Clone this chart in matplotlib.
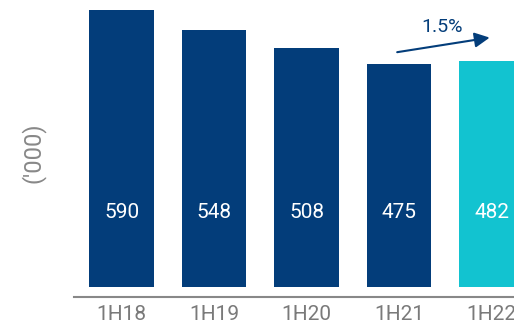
import matplotlib.pyplot as plt

plt.rcParams["font.family"] = ["Roboto", "DejaVu Sans"]

periods = ["1H18", "1H19", "1H20", "1H21", "1H22"]
volumes = [590, 548, 508, 475, 482]
growth_label = "1.5%"

navy = "#033d7a"
cyan = "#12c3d0"
colors = [navy, navy, navy, navy, cyan]

fig = plt.figure(figsize=(5.14, 3.24), dpi=100)
ax = fig.add_axes([0.144, 0.083, 0.856, 0.917])

x = list(range(len(periods)))
ax.bar(x, volumes, width=0.70, color=colors, zorder=2)

# value labels inside each bar
for xi, v in zip(x, volumes):
    ax.text(xi, 160, f"{v}", ha="center", va="center",
            color="white", fontsize=15)

# growth arrow between the last two periods
ax.annotate("", xy=(3.98, 531), xytext=(2.98, 500),
            arrowprops=dict(arrowstyle="-|>,head_length=0.9,head_width=0.45",
                            color=navy, lw=1.5, shrinkA=0, shrinkB=0))
ax.text(3.46, 554, growth_label, ha="center", va="center",
        color=navy, fontsize=14)

ax.set_xlim(-0.514, 4.243)
ax.set_ylim(-21, 611)

for side in ["top", "right", "left"]:
    ax.spines[side].set_visible(False)
ax.spines["bottom"].set_color("#888888")
ax.spines["bottom"].set_linewidth(1.5)

ax.set_xticks(x)
ax.set_xticklabels(periods, fontsize=15, color="#7a7a7a")
ax.tick_params(axis="x", length=0, pad=6)
ax.set_yticks([])

fig.text(0.064, 0.53, "('000)", rotation=90, ha="center", va="center",
         fontsize=17, color="#888888")

fig.savefig("out.png", dpi=100)
